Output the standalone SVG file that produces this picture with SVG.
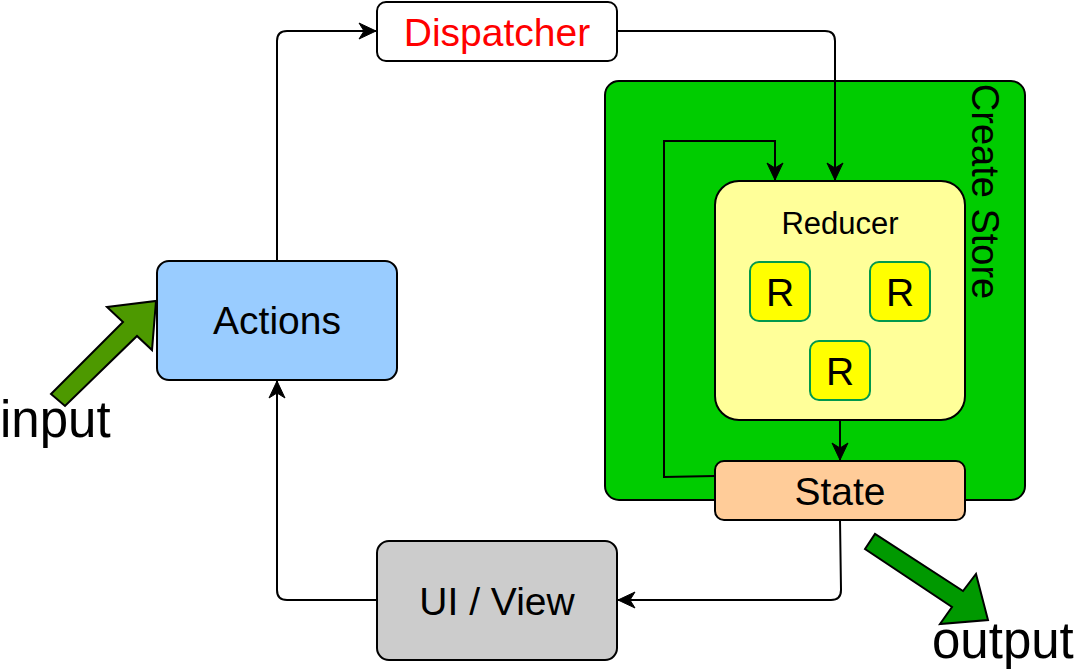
<svg xmlns="http://www.w3.org/2000/svg" width="1076" height="672" viewBox="0 0 1076 672">
<defs>
<style>
text{font-family:"Liberation Sans",Arial,sans-serif;fill:#000}
.box{stroke:#000;stroke-width:2}
.lbl{font-size:39px;text-anchor:middle}
.rbox{fill:#FFFF00;stroke:#00994D;stroke-width:2}
.conn{fill:none;stroke:#000;stroke-width:2}
.big{stroke:#000;stroke-width:2;stroke-linejoin:miter}
</style>
<marker id="arr" markerUnits="userSpaceOnUse" markerWidth="20" markerHeight="18" refX="17" refY="8" orient="auto" overflow="visible">
<path d="M0,0 L17,8 L0,16 L5,8 Z" fill="#000" stroke="#000" stroke-width="1"/>
</marker>
</defs>
<rect width="1076" height="672" fill="#fff"/>

<g id="create-store">
<rect class="box" x="605" y="81" width="420" height="419" rx="14" fill="#00CC00"/>
<text transform="translate(985,191.5) rotate(90)" x="0" y="13.5" style="font-size:38px;text-anchor:middle">Create Store</text>
</g>

<g id="reducer">
<rect class="box" x="715" y="181" width="250" height="239" rx="24" fill="#FFFF99"/>
<text x="840" y="234" style="font-size:31px;text-anchor:middle">Reducer</text>
</g>

<g id="r1">
<rect class="rbox" x="750" y="262" width="60" height="59" rx="9"/>
<text class="lbl" x="780" y="305.5">R</text>
</g>
<g id="r2">
<rect class="rbox" x="870" y="262" width="60" height="59" rx="9"/>
<text class="lbl" x="900" y="305.5">R</text>
</g>
<g id="r3">
<rect class="rbox" x="810" y="341" width="60" height="59" rx="9"/>
<text class="lbl" x="840" y="384.5">R</text>
</g>

<g id="connectors">
<path class="conn" d="M277,261 V41 Q277,31 287,31 H376" marker-end="url(#arr)"/>
<path class="conn" d="M617,31 H825 Q835,31 835,41 V180" marker-end="url(#arr)"/>
<path class="conn" d="M715,476 L664,477 V141 H775 V180" marker-end="url(#arr)"/>
<path class="conn" d="M840,420 V460" marker-end="url(#arr)"/>
<path class="conn" d="M840,520 L841,590 Q841,600 831,600 H618" marker-end="url(#arr)"/>
<path class="conn" d="M377,600 H287 Q277,600 277,590 V381" marker-end="url(#arr)"/>
</g>

<g id="state">
<rect class="box" x="715" y="461" width="250" height="59" rx="9" fill="#FFCC99"/>
<text class="lbl" x="840" y="504.5">State</text>
</g>

<g id="dispatcher">
<rect class="box" x="377" y="2" width="240" height="59" rx="9" fill="#FFFFFF"/>
<text class="lbl" x="497" y="45.5" style="fill:#FF0000">Dispatcher</text>
</g>

<g id="actions">
<rect class="box" x="157" y="261" width="240" height="119" rx="12" fill="#99CCFF"/>
<text class="lbl" x="277" y="334">Actions</text>
</g>

<g id="ui-view">
<rect class="box" x="377" y="541" width="240" height="119" rx="12" fill="#CCCCCC"/>
<text class="lbl" x="497" y="614.5">UI / View</text>
</g>

<g id="input">
<polygon class="big" points="51,394 123,322 107,307 156,301 152,350 137,336 65,406" fill="#4D9900"/>
<text x="0" y="437" style="font-size:51px">input</text>
</g>

<g id="output">
<polygon class="big" points="865,549 875,534 963,591 976,574 988,620 940,624 952,607" fill="#009900"/>
<text x="932" y="658" style="font-size:51px">output</text>
</g>
</svg>
